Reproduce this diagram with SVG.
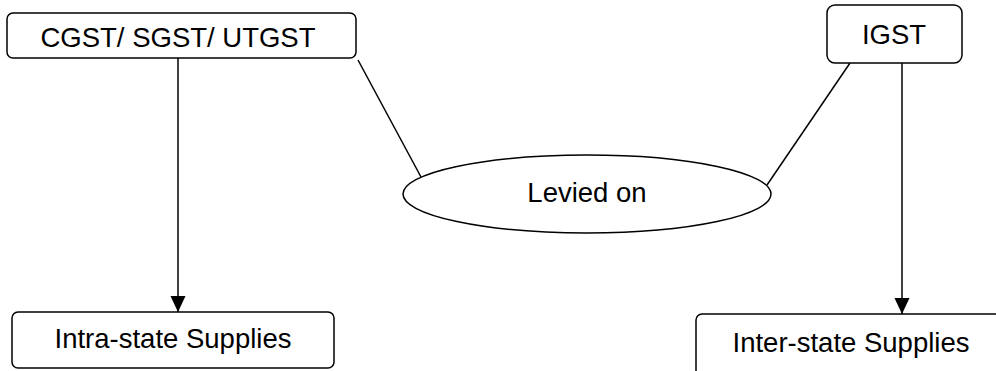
<svg xmlns="http://www.w3.org/2000/svg" width="996" height="371" viewBox="0 0 996 371">
<style>
.box{fill:#fff;stroke:#000;stroke-width:1.5}
.t{font-family:"Liberation Sans",Arial,sans-serif;font-size:27.5px;fill:#000;text-anchor:middle}
.c{stroke:#000;stroke-width:1.5;fill:none}
</style>
<defs>
<marker id="arr" markerWidth="16" markerHeight="17" refX="17" refY="8" orient="auto" markerUnits="userSpaceOnUse" viewBox="0 0 17 16">
<path d="M0,0 L17,8 L0,16 Z" fill="#000"/>
</marker>
</defs>
<rect width="996" height="371" fill="#fff"/>
<g id="connectors">
<line class="c" x1="178" y1="58" x2="178" y2="312" marker-end="url(#arr)"/>
<line class="c" x1="902" y1="63" x2="902" y2="314" marker-end="url(#arr)"/>
<line class="c" x1="358" y1="60" x2="421" y2="177"/>
<line class="c" x1="850" y1="63" x2="767" y2="185"/>
</g>
<g id="cgst">
<rect class="box" x="7" y="13" width="349" height="45" rx="6"/>
<text class="t" x="178" y="47">CGST/ SGST/ UTGST</text>
</g>
<g id="igst">
<rect class="box" x="827" y="5" width="135" height="58" rx="8"/>
<text class="t" x="894" y="44">IGST</text>
</g>
<g id="levied">
<ellipse class="box" cx="587" cy="194" rx="184" ry="39"/>
<text class="t" x="587" y="202">Levied on</text>
</g>
<g id="intra">
<rect class="box" x="12" y="312" width="322" height="56" rx="6"/>
<text class="t" x="173" y="348">Intra-state Supplies</text>
</g>
<g id="inter">
<rect class="box" x="696" y="314" width="320" height="70" rx="6"/>
<text class="t" x="851" y="352">Inter-state Supplies</text>
</g>
</svg>
